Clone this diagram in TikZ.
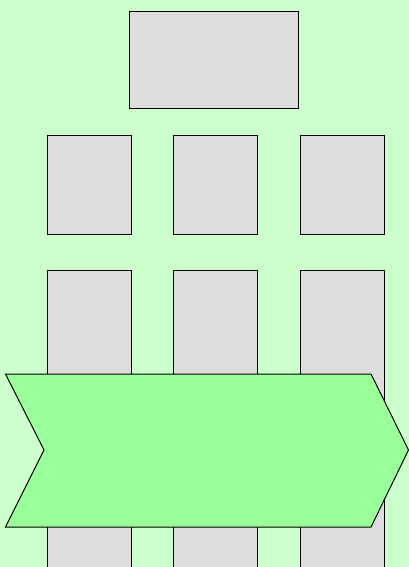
\documentclass[tikz,border=0pt]{standalone}
\usetikzlibrary{positioning}
\definecolor{bgc}{HTML}{CCFFCC}
\definecolor{boxc}{HTML}{DDDDDD}
\definecolor{chev}{HTML}{99FF99}
\tikzset{
  graybox/.style={draw=black, fill=boxc, line width=1pt, inner sep=0pt, anchor=north west},
  chevshape/.style={draw=black, fill=chev, line width=1pt, line join=miter}
}
\begin{document}
\begin{tikzpicture}[x=1pt,y=-1pt]
\useasboundingbox (0,0) rectangle (409,567);
\clip (0,0) rectangle (409,567);
\fill[bgc] (0,0) rectangle (409,567);
% top box
\node[graybox, minimum width=169pt, minimum height=97pt] (top) at (128.5,11.5) {};
% middle row
\node[graybox, minimum width=84pt, minimum height=99pt] (m1) at (47,135) {};
\node[graybox, minimum width=84pt, minimum height=99pt] (m2) at (173,135) {};
\node[graybox, minimum width=84pt, minimum height=99pt] (m3) at (300,135) {};
% lower tall row
\node[graybox, minimum width=84pt, minimum height=310pt] (l1) at (47,270) {};
\node[graybox, minimum width=84pt, minimum height=310pt] (l2) at (173,270) {};
\node[graybox, minimum width=84pt, minimum height=310pt] (l3) at (300,270) {};
% chevron
\draw[chevshape] (5.5,374) -- (371,374) -- (408.5,450) -- (371,527) -- (5.5,527) -- (44,450) -- cycle;
\end{tikzpicture}
\end{document}
